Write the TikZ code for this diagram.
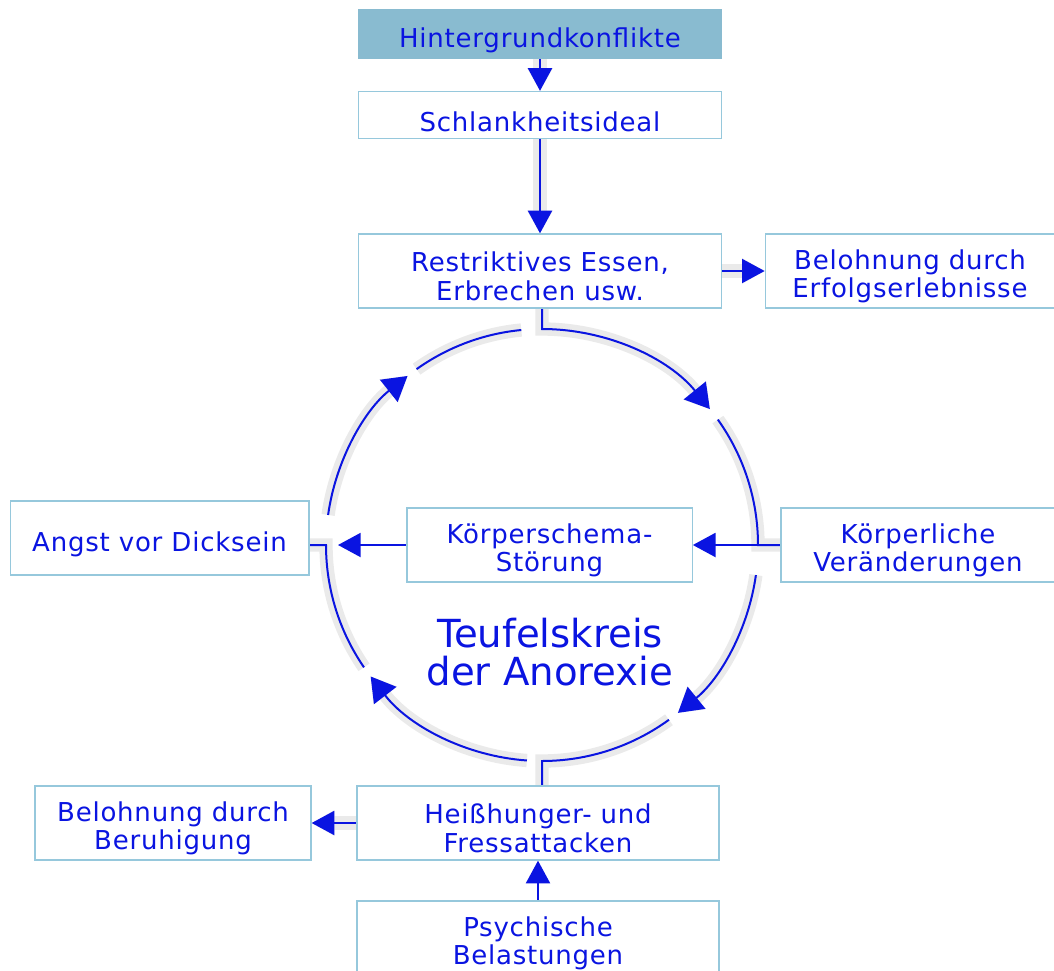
\documentclass[tikz,border=0pt]{standalone}
\usepackage{fontspec}
\setmainfont{DejaVu Sans}
\newfontfamily\boxfont[LetterSpace=3]{DejaVu Sans}
\usepackage{tikz}
\usetikzlibrary{arrows.meta}
\usetikzlibrary{backgrounds}
\usetikzlibrary{shapes,positioning}
\definecolor{txtblue}{RGB}{10,20,225}
\definecolor{framecol}{RGB}{150,200,220}
\definecolor{headcol}{RGB}{137,187,208}
\definecolor{halocol}{RGB}{234,234,234}
\tikzset{>={Triangle[length=17pt,width=18pt]},
  box/.style={draw=framecol,line width=1pt,fill=white,inner sep=0pt,minimum height=55.5pt},
  boxtext/.style={text=txtblue,align=center,font=\boxfont\fontsize{19.5}{21.5}\selectfont,yshift=-4pt},
  line/.style={color=txtblue,line width=1.5pt},
  flow/.style={line,->},
  bigflow/.style={line,-{Triangle[length=18pt,width=21pt]}},
  halo/.style={preaction={draw=halocol,line width=10pt}}}

\begin{document}
\begin{tikzpicture}[x=0.75pt,y=-0.75pt]
    \useasboundingbox (0,0) rectangle (1054,971);

    \node[box,fill=headcol,draw=headcol,minimum width=272pt,minimum height=36pt,
      label={[boxtext,yshift=-1pt]center:Hintergrundkonflikte}] (hinter) at (540,34) {};
    \node[box,minimum width=272pt,minimum height=35.25pt,
      label={[boxtext,yshift=-1pt]center:Schlankheitsideal}] (schlank) at (540,115) {};
    \node[box,minimum width=272pt,label={[boxtext]center:{Restriktives Essen,\\Erbrechen usw.}}] (restr) at (540,271) {};
    \node[box,minimum width=217pt,label={[boxtext]center:{Belohnung durch\\Erfolgserlebnisse}}] (erfolg) at (910,271) {};
    \node[box,minimum width=224pt,label={[boxtext,yshift=-1pt]center:Angst vor Dicksein}] (angst) at (159.5,538) {};
    \node[box,minimum width=214pt,label={[boxtext]center:{Körperschema-\\Störung}}] (schema) at (549.5,545) {};
    \node[box,minimum width=205.5pt,label={[boxtext]center:{Körperliche\\Veränderungen}}] (koerper) at (918,545) {};
    \node[box,minimum width=207pt,label={[boxtext]center:{Belohnung durch\\Beruhigung}}] (beruh) at (173,823) {};
    \node[box,minimum width=271.5pt,label={[boxtext]center:{Heißhunger- und\\Fressattacken}}] (heiss) at (538,823) {};
    \node[box,minimum width=271.5pt,label={[boxtext]center:{Psychische\\Belastungen}}] (psych) at (538,938) {};
    \node[text=txtblue,align=center,font=\fontsize{29}{29}\selectfont] (title) at (550,652) {Teufelskreis\\der Anorexie};

    % circle of the vicious cycle
    \coordinate (cc) at (542,545);
    \coordinate (ctop) at (542,329);
    \coordinate (cright) at (758,545);
    \coordinate (cbot) at (542,761);
    \coordinate (cleft) at (326,545);
    \coordinate (kin) at (338,545);

    \begin{scope}[on background layer]
    \draw[flow,halo] (hinter) -- (schlank);
    \draw[flow,halo] (schlank) -- (restr);
    \draw[flow,halo] (restr) -- (erfolg);
    \draw[flow,halo] (heiss) -- (beruh);

    \draw[bigflow,halo] (restr.south -| ctop) -- (ctop) arc[start angle=90,end angle=39,radius=162pt];
    \draw[line,halo] ([shift={(35.5:162pt)}]cc) arc[start angle=35.5,end angle=0,radius=162pt] -- (koerper.west |- cright);
    \draw[bigflow,halo] ([shift={(-8:162pt)}]cc) arc[start angle=-8,end angle=-51,radius=162pt];
    \draw[line,halo] ([shift={(-54:162pt)}]cc) arc[start angle=-54,end angle=-90,radius=162pt] -- (heiss.north -| cbot);
    \draw[bigflow,halo] ([shift={(-94:162pt)}]cc) arc[start angle=-94,end angle=-142.5,radius=162pt];
    \draw[line,halo] ([shift={(-145.5:162pt)}]cc) arc[start angle=-145.5,end angle=-180,radius=162pt] -- (angst.east |- cleft);
    \draw[bigflow,halo] ([shift={(172:162pt)}]cc) arc[start angle=172,end angle=128.5,radius=162pt];
    \draw[line,halo] ([shift={(125.5:162pt)}]cc) arc[start angle=125.5,end angle=95.5,radius=162pt];

    \draw[flow] (koerper) -- (schema);
    \draw[flow] (schema.west) -- (kin);
    \draw[flow] (psych) -- (heiss);
    \end{scope}
\end{tikzpicture}
\end{document}
